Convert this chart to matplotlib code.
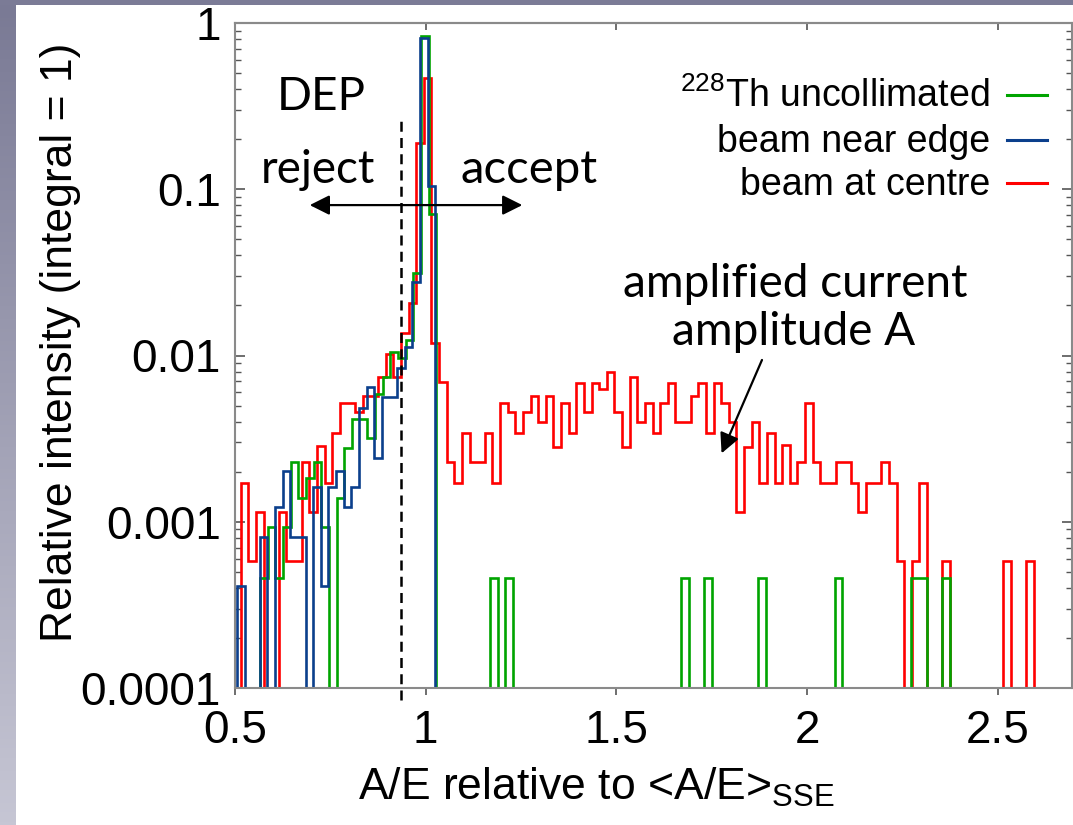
import numpy as np
import matplotlib
matplotlib.use("Agg")
import matplotlib.pyplot as plt
from matplotlib.colors import LinearSegmentedColormap
from matplotlib.lines import Line2D
from matplotlib.patches import Rectangle
from matplotlib.ticker import LogLocator, NullFormatter

plt.rcParams['font.family'] = ['Liberation Sans', 'DejaVu Sans']
plt.rcParams['mathtext.fontset'] = 'custom'
plt.rcParams['mathtext.rm'] = 'Liberation Sans'

GREEN = '#00a400'
BLUE = '#0b3f8c'
RED = '#ff0000'
AXIS_GREY = '#8a8a8a'

# histogram contents, one value per bin (integral normalised to 1)
red_start, red_width = 0.495, 0.02
red_vals = [
    0, 0.00172, 0.00058, 0.00115, 0, 0, 0.00115, 0.00058, 0.00058, 0.0023,
    0.00115, 0.00287, 0.00172, 0.00344, 0.00516, 0.00516, 0.00459, 0.00573, 0.00573, 0.00747,
    0.0102, 0.0074, 0.0136, 0.0206, 0.19, 0.47, 0.0119, 0.0069, 0.0023, 0.00172,
    0.00344, 0.0023, 0.0023, 0.00344, 0.00172, 0.00516, 0.00459, 0.00344, 0.00459, 0.00573,
    0.0040, 0.00573, 0.00283, 0.00516, 0.00344, 0.00686, 0.00459, 0.00686, 0.00627, 0.0080,
    0.00459, 0.00283, 0.00747, 0.0040, 0.00516, 0.00344, 0.00516, 0.00686, 0.0040, 0.0040,
    0.00573, 0.00686, 0.00344, 0.00686, 0.00516, 0.0040, 0.00115, 0.00283, 0.0040, 0.00172,
    0.00344, 0.00172, 0.0029, 0.00172, 0.0023, 0.00516, 0.0023, 0.00172, 0.00172, 0.0023,
    0.0023, 0.00172, 0.00115, 0.00172, 0.00172, 0.0023, 0.00172, 0.00058, 0, 0.00058,
    0.00172, 0, 0, 0.00058, 0, 0, 0, 0, 0, 0,
    0, 0.00058, 0, 0, 0.00058, 0, 0, 0, 0, 0,
]

blue_start, blue_width = 0.485, 0.02
blue_vals = [
    0, 0.00041, 0, 0, 0.00081, 0, 0.00122, 0.00203, 0.00081, 0.00081,
    0, 0.00161, 0.00041, 0.00161, 0.00203, 0.00122, 0.00161, 0.00481, 0.00644, 0.00241,
    0.00565, 0.00565, 0.00838, 0.0112, 0.0278, 0.815, 0.104, 0,
]

green_start, green_width = 0.485, 0.0201
green_vals = [
    0, 0, 0, 0, 0.00046, 0.00093, 0.00046, 0.00093, 0.0023, 0.00138,
    0.00184, 0.0023, 0.00093, 0, 0.00138, 0.00277, 0.00413, 0.00413, 0.0032, 0.0059,
    0.0074, 0.01055, 0.0096, 0.0124, 0.0315, 0.835, 0.0706, 0, 0, 0,
    0, 0, 0, 0, 0.00046, 0, 0.00046, 0, 0, 0,
    0, 0, 0, 0, 0, 0, 0, 0, 0, 0,
    0, 0, 0, 0, 0, 0, 0, 0, 0, 0.00046,
    0, 0, 0.00046, 0, 0, 0, 0, 0, 0, 0.00046,
    0, 0, 0, 0, 0, 0, 0, 0, 0, 0.00046,
    0, 0, 0, 0, 0, 0, 0, 0, 0, 0.00046,
    0.00046, 0, 0, 0.00046, 0,
]

series_labels = [r'$^{\mathregular{228}}$Th uncollimated', 'beam near edge', 'beam at centre']
series_colors = [GREEN, BLUE, RED]

x_ticks = [0.5, 1, 1.5, 2, 2.5]
x_ticklabels = ['0.5', '1', '1.5', '2', '2.5']
y_ticks = [1e-4, 1e-3, 1e-2, 1e-1, 1]
y_ticklabels = ['0.0001', '0.001', '0.01', '0.1', '1']

dep_cut = 0.936


def bin_edges(start, width, n):
    return start + width * np.arange(n + 1)


W, H = 1073, 825
fig = plt.figure(figsize=(W / 100, H / 100), dpi=100)
fig.patch.set_facecolor('white')

# slide frame: grey band on top, shaded strip on the left
fig.patches.append(Rectangle((0, 1 - 5 / H), 1, 5 / H, transform=fig.transFigure,
                             facecolor='#7b7b96', edgecolor='none'))
strip = fig.add_axes([0, 0, 16 / W, 1 - 5 / H])
shade = LinearSegmentedColormap.from_list('shade', ['#7a7a95', '#c6c6d4'])
strip.imshow(np.linspace(0, 1, 256)[:, None], aspect='auto', cmap=shade,
             extent=[0, 1, 0, 1], origin='upper')
strip.axis('off')

ax = fig.add_axes([235 / W, 137 / H, (1072 - 235) / W, 665 / H])
ax.set_yscale('log')

ax.stairs(red_vals, bin_edges(red_start, red_width, len(red_vals)),
          color=RED, lw=1.9, baseline=None, zorder=2)
ax.stairs(green_vals, bin_edges(green_start, green_width, len(green_vals)),
          color=GREEN, lw=1.9, baseline=None, zorder=2.1)
ax.stairs(blue_vals, bin_edges(blue_start, blue_width, len(blue_vals)),
          color=BLUE, lw=1.9, baseline=None, zorder=2.2)

ax.set_xlim(0.5, 2.695)
ax.set_ylim(1e-4, 1)

ax.set_xticks(x_ticks, labels=x_ticklabels)
ax.set_yticks(y_ticks, labels=y_ticklabels)
ax.yaxis.set_minor_locator(LogLocator(base=10, subs=np.arange(2, 10)))
ax.yaxis.set_minor_formatter(NullFormatter())
ax.tick_params(axis='x', which='major', direction='out', length=5, width=1.2,
               color='#555555', labelsize=33, pad=10)
ax.tick_params(axis='y', which='both', direction='in', left=True, right=True,
               color='#555555', labelsize=33, pad=10)
ax.tick_params(axis='y', which='major', length=7, width=1.2)
ax.tick_params(axis='y', which='minor', length=4, width=1.0)
for side in ax.spines.values():
    side.set_color(AXIS_GREY)
    side.set_linewidth(1.5)

top = ax.secondary_xaxis('top')
top.set_xticks(x_ticks)
top.tick_params(direction='in', length=5, width=1.2, color='#555555', labeltop=False)
top.spines['top'].set_color(AXIS_GREY)
top.spines['top'].set_linewidth(1.5)

# DEP acceptance cut
ax.axvline(dep_cut, ymin=-0.018, ymax=0.862, color='black', lw=1.8,
           dashes=(4, 2.5), clip_on=False, zorder=3)

serif_free = ['Lato', 'DejaVu Sans']
ax.text(0.725, 0.30, 'DEP', family=serif_free, fontsize=33, ha='center', va='baseline')
ax.text(0.717, 0.109, 'reject', family=serif_free, fontsize=33, ha='center', va='baseline')
ax.text(1.272, 0.109, 'accept', family=serif_free, fontsize=34, ha='center', va='baseline')
ax.annotate('', xy=(0.696, 0.0803), xytext=(1.2535, 0.0803),
            arrowprops=dict(arrowstyle='<|-|>,head_length=0.6,head_width=0.3',
                            color='black', lw=1.6, mutation_scale=20,
                            shrinkA=0, shrinkB=0))

ax.text(1.970, 0.02248, 'amplified current', family=serif_free, fontsize=33,
        ha='center', va='baseline')
ax.text(1.966, 0.01156, 'amplitude A', family=serif_free, fontsize=33,
        ha='center', va='baseline')
ax.annotate('', xy=(1.776, 0.00258), xytext=(1.882, 0.0094),
            arrowprops=dict(arrowstyle='-|>,head_length=0.6,head_width=0.3',
                            color='black', lw=1.6, mutation_scale=20,
                            shrinkA=0, shrinkB=0))

# legend: labels right-aligned, line sample to the right
row_y = [95, 140, 183]
for label, color, y in zip(series_labels, series_colors, row_y):
    fig.text(990 / W, 1 - (y + 12) / H, label, fontsize=27, ha='right', va='baseline')
    fig.add_artist(Line2D([1007 / W, 1047 / W], [1 - y / H, 1 - y / H],
                          transform=fig.transFigure, color=color, lw=2.2))

fig.text(596 / W, 1 - 800 / H, r'A/E relative to <A/E>$_{\mathregular{SSE}}$',
         fontsize=32, ha='center', va='baseline')
fig.text(61 / W, 1 - 342 / H, 'Relative intensity (integral = 1)',
         fontsize=32, rotation=90, ha='center', va='center')

fig.savefig('out.png', dpi=100)
